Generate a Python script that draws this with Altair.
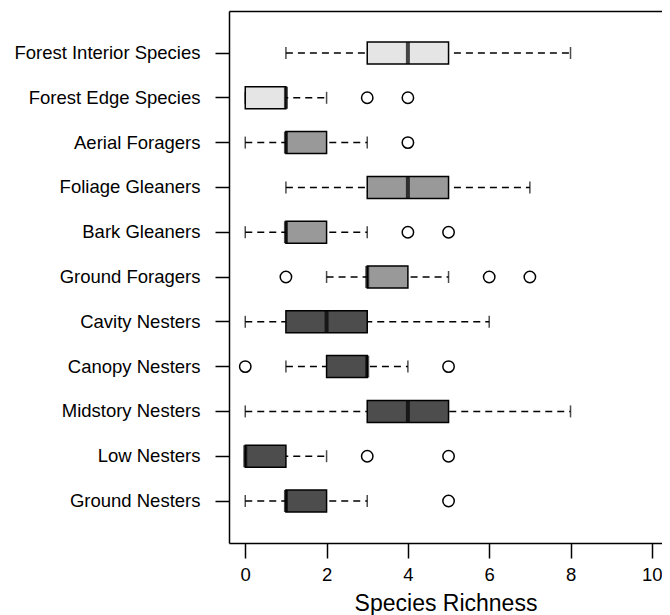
import altair as alt
import pandas as pd

categories = ["Forest Interior Species", "Forest Edge Species", "Aerial Foragers",
              "Foliage Gleaners", "Bark Gleaners", "Ground Foragers", "Cavity Nesters",
              "Canopy Nesters", "Midstory Nesters", "Low Nesters", "Ground Nesters"]
guild = ["Habitat", "Habitat", "Foraging", "Foraging", "Foraging", "Foraging",
         "Nesting", "Nesting", "Nesting", "Nesting", "Nesting"]
whisker_low = [1, 0, 0, 1, 0, 2, 0, 1, 0, 0, 0]
q1 = [3, 0, 1, 3, 1, 3, 1, 2, 3, 0, 1]
median = [4, 1, 1, 4, 1, 3, 2, 3, 4, 0, 1]
q3 = [5, 1, 2, 5, 2, 4, 3, 3, 5, 1, 2]
whisker_high = [8, 2, 3, 7, 3, 5, 6, 4, 8, 2, 3]
outliers = [[], [3, 4], [4], [], [4, 5], [1, 6, 7], [], [0, 5], [], [3, 5], [5]]
x_ticks = [0, 2, 4, 6, 8, 10]

guild_names = ["Habitat", "Foraging", "Nesting"]
guild_colors = ["#e5e5e5", "#999999", "#4d4d4d"]

df = pd.DataFrame({
    "category": categories, "guild": guild, "lo": whisker_low, "q1": q1,
    "med": median, "q3": q3, "hi": whisker_high,
})
out_df = pd.DataFrame(
    [{"category": c, "value": v} for c, vals in zip(categories, outliers) for v in vals]
)

FONT = "Liberation Sans"
LABEL_SIZE = 18.5
xscale = alt.Scale(domain=[-0.4, 10.25], nice=False, zero=False)
yenc = alt.Y(
    "category:N", sort=categories,
    scale=alt.Scale(paddingInner=0.509, paddingOuter=0.692),
    axis=alt.Axis(title=None, labelFontSize=LABEL_SIZE, labelPadding=15, tickSize=14,
                  labelLimit=0, labelFont=FONT, labelColor="black", tickColor="black",
                  tickWidth=1.5, domainColor="black", domainWidth=1.5),
)

base = alt.Chart(df)

whiskers = base.mark_rule(color="black", strokeWidth=1.5, strokeDash=[7, 5]).encode(
    x=alt.X("lo:Q", scale=xscale,
            axis=alt.Axis(values=x_ticks, title="Species Richness", titleFontSize=23,
                          titleFontWeight="normal", titleFont=FONT, titleColor="black",
                          labelFontSize=LABEL_SIZE, labelFont=FONT, labelColor="black",
                          tickSize=15, tickColor="black", tickWidth=1.5,
                          domainColor="black", domainWidth=1.5, labelPadding=7,
                          titlePadding=9, grid=False, format="d")),
    x2="hi:Q",
    y=yenc,
)

staple_lo = base.mark_tick(color="black", thickness=1.5, size=12, orient="vertical").encode(
    x=alt.X("lo:Q", scale=xscale, axis=None), y=yenc)
staple_hi = base.mark_tick(color="black", thickness=1.5, size=12, orient="vertical").encode(
    x=alt.X("hi:Q", scale=xscale, axis=None), y=yenc)

boxes = base.mark_bar(stroke="black", strokeWidth=1.5, opacity=1).encode(
    x=alt.X("q1:Q", scale=xscale,
            axis=alt.Axis(orient="top", labels=False, ticks=False, title=None,
                          domainColor="black", domainWidth=1.5, grid=False)),
    x2="q3:Q",
    y=yenc,
    fill=alt.Fill("guild:N", scale=alt.Scale(domain=guild_names, range=guild_colors),
                  legend=None),
)

medians = base.mark_tick(color="black", thickness=4, size=22, orient="vertical").encode(
    x=alt.X("med:Q", scale=xscale, axis=None), y=yenc)

points = alt.Chart(out_df).mark_point(shape="circle", size=130, filled=False,
                                      color="black", strokeWidth=1.5, opacity=1).encode(
    x=alt.X("value:Q", scale=xscale, axis=None), y=yenc)

chart = alt.layer(whiskers, staple_lo, staple_hi, boxes, medians, points).resolve_axis(
    x="independent"
).properties(
    width=433, height=532,
    autosize=alt.AutoSizeParams(type="none"),
    padding={"left": 221, "top": 3, "right": 0, "bottom": 72},
).configure_view(stroke=None)

chart.save("out.html", embed_options={"renderer": "svg", "actions": False})
